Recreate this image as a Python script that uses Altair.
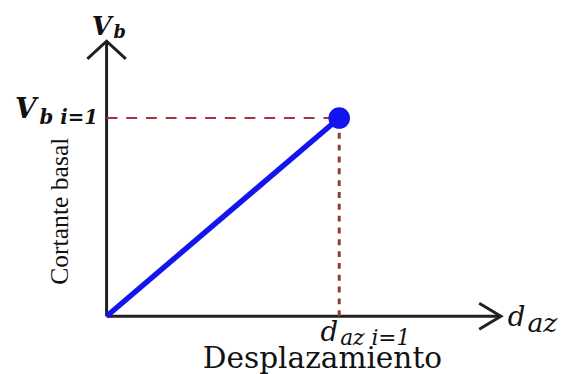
import altair as alt
import pandas as pd

# ---- data (normalised schematic values) ----
displacement = [0.0, 1.0]     # d_az : origin and d_az,i=1
base_shear = [0.0, 1.0]       # V_b  : origin and V_b,i=1
x_axis_end = 1.695            # length of drawn x axis (data units)
y_axis_end = 1.388            # length of drawn y axis (data units)

d1 = displacement[1]
v1 = base_shear[1]

W, H = 561, 366
xs = alt.Scale(domain=[-0.42373, 1.95339], nice=False, zero=False)
ys = alt.Scale(domain=[-0.27861, 1.54229], nice=False, zero=False)

def X(f="x"):
    return alt.X(f"{f}:Q", scale=xs, axis=None)

def Y(f="y"):
    return alt.Y(f"{f}:Q", scale=ys, axis=None)

curve = pd.DataFrame({"x": displacement, "y": base_shear})
axes_df = pd.DataFrame({"x": [0, 0], "y": [0, 0], "x2": [x_axis_end, 0], "y2": [0, y_axis_end]})
hdash = pd.DataFrame({"x": [0], "y": [v1], "x2": [d1], "y2": [v1]})
vdash = pd.DataFrame({"x": [d1], "y": [0], "x2": [d1], "y2": [v1]})
pt = pd.DataFrame({"x": [d1], "y": [v1]})
up_tip = pd.DataFrame({"x": [0], "y": [y_axis_end]})
right_tip = pd.DataFrame({"x": [x_axis_end], "y": [0]})
mid_v = pd.DataFrame({"x": [0], "y": [v1 / 2]})
p_d1 = pd.DataFrame({"x": [d1], "y": [0]})
p_v1 = pd.DataFrame({"x": [0], "y": [v1]})

AX = "#231f20"
BLUE = "#1414ee"
SERIF = "Liberation Serif"
MATH = "DejaVu Serif"

axes = alt.Chart(axes_df).mark_rule(color=AX, strokeWidth=3).encode(
    x=X(), y=Y(), x2="x2:Q", y2="y2:Q")

up_arrow = alt.Chart(up_tip).mark_point(
    shape="M-1,0.92L0,0L1,0.92", size=1521, filled=False, color=AX, strokeWidth=3, opacity=1
).encode(x=X(), y=Y())
right_arrow = alt.Chart(right_tip).mark_point(
    shape="M-1,-0.6L0,0L-1,0.6", size=1936, filled=False, color=AX, strokeWidth=3, opacity=1
).encode(x=X(), y=Y())

h_line = alt.Chart(hdash).mark_rule(color="#a8323e", strokeWidth=2, strokeDash=[11, 9]).encode(
    x=X(), y=Y(), x2="x2:Q", y2="y2:Q")
v_line = alt.Chart(vdash).mark_rule(color="#8e3a36", strokeWidth=3, strokeDash=[6, 6]).encode(
    x=X(), y=Y(), x2="x2:Q", y2="y2:Q")

line = alt.Chart(curve).mark_line(color=BLUE, strokeWidth=5.5).encode(x=X(), y=Y())
dot = alt.Chart(pt).mark_circle(color=BLUE, size=480, opacity=1).encode(x=X(), y=Y())

def txt(df, text, dx, dy, size, italic=True, bold=False, font=MATH, align="left", **kw):
    return alt.Chart(df).mark_text(
        text=text, dx=dx, dy=dy, fontSize=size, font=font, align=align,
        baseline=kw.pop("baseline", "alphabetic"),
        fontStyle="italic" if italic else "normal",
        fontWeight="bold" if bold else "normal", color="#111111", **kw
    ).encode(x=X(), y=Y())

labels = [
    txt(up_tip, "V", -15, -6, 26, bold=True),
    txt(up_tip, "b", 7, -3, 18, bold=True),
    txt(p_v1, "V", -93, 0, 28, bold=True),
    txt(p_v1, "b i=1", -68, 6, 20, bold=True),
    txt(p_d1, "d", -19, 25, 28),
    txt(p_d1, "az i=1", 1, 29, 22),
    txt(right_tip, "d", 7, 10, 28),
    txt(right_tip, "az", 27, 16, 27),
    txt(p_d1, "Desplazamiento", -17, 53, 30, italic=False, font=MATH, align="center"),
    txt(mid_v, "Cortante basal", 6, -47, 26, italic=False, font=SERIF, align="center",
        angle=270, baseline="middle"),
]

chart = alt.layer(axes, h_line, v_line, line, dot, up_arrow, right_arrow, *labels).properties(
    width=W, height=H, padding=0, background="white",
    autosize=alt.AutoSizeParams(type="none")
).configure_view(stroke=None)

chart.save("out.html", embed_options={"renderer": "svg", "actions": False})
